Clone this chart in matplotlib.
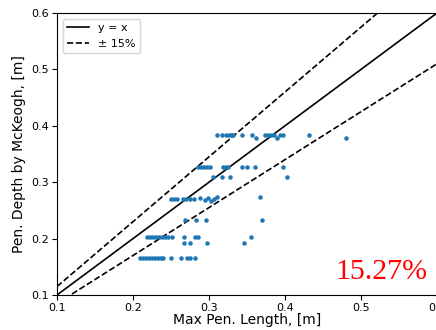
import numpy as np
import matplotlib.pyplot as plt

# dades llegides del gràfic (x: longitud màxima, y: profunditat McKeogh)
x_a = [0.310, 0.317, 0.323, 0.326, 0.329, 0.332, 0.344, 0.356, 0.362, 0.374,
       0.378, 0.382, 0.386, 0.390, 0.393, 0.397, 0.431, 0.480]
y_a = [0.384, 0.384, 0.384, 0.384, 0.384, 0.384, 0.384, 0.384, 0.379, 0.384,
       0.384, 0.384, 0.384, 0.379, 0.384, 0.384, 0.384, 0.379]

x_b = [0.286, 0.290, 0.294, 0.297, 0.301, 0.318, 0.322, 0.325, 0.344, 0.350,
       0.361, 0.397]
y_b = [0.327] * len(x_b)

x_c = [0.305, 0.317, 0.327, 0.403]
y_c = [0.310] * len(x_c)

x_d = [0.250, 0.254, 0.258, 0.266, 0.270, 0.275, 0.280, 0.288, 0.295, 0.299,
       0.303, 0.307, 0.311, 0.367]
y_d = [0.270, 0.270, 0.270, 0.270, 0.270, 0.270, 0.270, 0.272, 0.268, 0.272,
       0.267, 0.270, 0.273, 0.274]

x_e = [0.268, 0.283, 0.296, 0.370]
y_e = [0.233] * len(x_e)

x_f = [0.218, 0.222, 0.226, 0.230, 0.234, 0.238, 0.242, 0.246, 0.251, 0.267,
       0.282, 0.286, 0.355]
y_f = [0.202] * len(x_f)

x_g = [0.267, 0.275, 0.297, 0.346]
y_g = [0.192] * len(x_g)

x_h = [0.209, 0.213, 0.217, 0.221, 0.225, 0.229, 0.233, 0.237, 0.239, 0.250,
       0.263, 0.271, 0.275, 0.282]
y_h = [0.166] * len(x_h)

x_tot = x_a + x_b + x_c + x_d + x_e + x_f + x_g + x_h
y_tot = y_a + y_b + y_c + y_d + y_e + y_f + y_g + y_h

marge = 0.15
error_txt = "15.27%"

fig = plt.figure(figsize=(4.36, 3.3), dpi=100)
ax = fig.add_axes([57/436, 35/330, 380/436, 282/330])

xl = np.array([0.1, 0.6])
ax.plot(xl, xl, '-', color='black', lw=1.2, label='y = x')
ax.plot(xl, (1 + marge) * xl, '--', color='black', lw=1.2, label='± 15%')
ax.plot(xl, (1 - marge) * xl, '--', color='black', lw=1.2)
ax.scatter(x_tot, y_tot, s=5, color='tab:blue', zorder=3)

ax.set_xlim(0.1, 0.6)
ax.set_ylim(0.1, 0.6)
ax.set_xticks([0.1, 0.2, 0.3, 0.4, 0.5, 0.6])
ax.set_yticks([0.1, 0.2, 0.3, 0.4, 0.5, 0.6])
ax.tick_params(labelsize=8, pad=2)
ax.set_xlabel("Max Pen. Length, [m]", fontsize=10, labelpad=0)
ax.set_ylabel("Pen. Depth by McKeogh, [m]", fontsize=10, labelpad=4)
ax.legend(loc='upper left', fontsize=8)

ax.text(0.975, 0.057, error_txt, transform=ax.transAxes, ha='right', va='baseline',
        color='red', fontsize=21.5, family='Liberation Serif')

plt.savefig('out.png', dpi=100)
